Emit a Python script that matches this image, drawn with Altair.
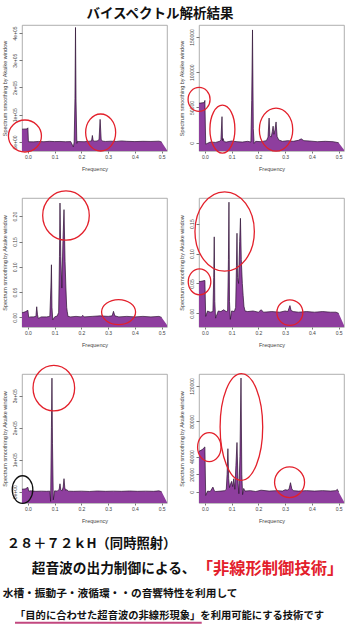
import altair as alt
import pandas as pd

# ---------------- data ----------------
FREQ_1 = [-0.022, -0.003, 0.0, 0.002, 0.02, 0.04, 0.06, 0.08, 0.10, 0.12, 0.14, 0.16, 0.170, 0.173, 0.176, 0.178, 0.180, 0.183, 0.186, 0.19, 0.21, 0.23, 0.238, 0.241, 0.244, 0.25, 0.26, 0.266, 0.270, 0.274, 0.28, 0.29, 0.31, 0.33, 0.35, 0.37, 0.40, 0.43, 0.46, 0.49, 0.50, 0.52]
SPEC_1 = [47000, 48000, 52000, 1000, 500, 2000, 1000, 2500, 1500, 2000, 1000, 1500, -18000, 0, 160000, 420000, 150000, -5000, 3000, 1500, 1000, 3000, 4000, 24000, 5000, 3000, 4000, 10000, 83000, 8000, 3000, 2000, 3000, 2000, 4000, 2500, 1500, 2500, 2000, 3000, 0, -30000]

FREQ_2 = [-0.022, -0.002, 0.0, 0.003, 0.02, 0.04, 0.055, 0.060, 0.064, 0.066, 0.068, 0.072, 0.08, 0.10, 0.12, 0.14, 0.16, 0.172, 0.175, 0.178, 0.181, 0.184, 0.19, 0.21, 0.23, 0.236, 0.240, 0.243, 0.248, 0.252, 0.255, 0.258, 0.262, 0.266, 0.270, 0.276, 0.29, 0.31, 0.33, 0.35, 0.36, 0.37, 0.39, 0.42, 0.45, 0.48, 0.50, 0.52]
SPEC_2 = [56000, 57000, 60000, -2000, 1000, 500, 2000, 4000, 37000, 3000, 6000, 1500, 1000, 2500, 1500, 1000, 2000, 1000, 60000, 160000, 20000, -1000, 2000, 1500, 3000, 8000, 35000, 10000, 8000, 16000, 23500, 12000, 18000, 29500, 9000, 4000, 2000, 3000, 2000, 3500, 5500, 3000, 2500, 1500, 2000, 1500, 0, -10000]

FREQ_3 = [-0.022, -0.01, 0.0, 0.003, 0.01, 0.02, 0.03, 0.033, 0.036, 0.039, 0.05, 0.07, 0.082, 0.086, 0.088, 0.090, 0.093, 0.10, 0.11, 0.115, 0.118, 0.120, 0.123, 0.127, 0.131, 0.135, 0.139, 0.142, 0.145, 0.147, 0.15, 0.16, 0.18, 0.20, 0.205, 0.21, 0.24, 0.27, 0.30, 0.315, 0.32, 0.325, 0.34, 0.37, 0.40, 0.43, 0.46, 0.49, 0.50, 0.52]
SPEC_3 = [0.009, 0.011, 0.014, 0.0, 0.001, 0.001, 0.002, 0.021, 0.005, -0.002, 0.001, 0.001, 0.002, 0.06, 0.104, 0.02, -0.005, 0.001, 0.003, 0.01, 0.12, 0.226, 0.12, 0.058, 0.15, 0.213, 0.11, 0.06, 0.02, 0.012, 0.002, 0.001, 0.002, 0.001, 0.004, 0.001, 0.002, 0.003, 0.002, 0.003, 0.012, 0.003, 0.001, 0.002, 0.001, 0.002, 0.001, 0.002, 0.0, -0.015]

FREQ_4 = [-0.022, -0.01, 0.0, 0.003, 0.01, 0.02, 0.03, 0.033, 0.035, 0.037, 0.04, 0.05, 0.06, 0.07, 0.08, 0.085, 0.088, 0.090, 0.092, 0.095, 0.10, 0.11, 0.115, 0.118, 0.120, 0.122, 0.126, 0.130, 0.133, 0.136, 0.140, 0.143, 0.146, 0.15, 0.16, 0.18, 0.20, 0.21, 0.22, 0.25, 0.28, 0.30, 0.31, 0.318, 0.322, 0.33, 0.35, 0.38, 0.41, 0.44, 0.47, 0.49, 0.50, 0.52]
SPEC_4 = [0.053, 0.054, 0.055, -0.005, 0.004, 0.002, 0.003, 0.06, 0.128, 0.02, -0.008, 0.004, 0.003, 0.006, 0.003, 0.004, 0.09, 0.186, 0.02, -0.01, 0.004, 0.003, 0.01, 0.08, 0.134, 0.06, 0.05, 0.12, 0.159, 0.09, 0.05, 0.03, 0.012, 0.004, 0.003, 0.004, 0.002, 0.006, 0.002, 0.003, 0.002, 0.004, 0.003, 0.013, 0.005, 0.003, 0.002, 0.003, 0.002, 0.003, 0.002, 0.002, 0.0, -0.02]

FREQ_5 = [-0.022, -0.01, 0.0, 0.003, 0.01, 0.03, 0.05, 0.07, 0.082, 0.085, 0.088, 0.090, 0.092, 0.095, 0.10, 0.11, 0.117, 0.120, 0.123, 0.128, 0.132, 0.135, 0.138, 0.142, 0.145, 0.15, 0.17, 0.20, 0.23, 0.26, 0.29, 0.32, 0.35, 0.38, 0.41, 0.44, 0.47, 0.49, 0.50, 0.52]
SPEC_5 = [8000, 9000, 14000, 2000, 3000, 1500, 2000, 1500, 2000, -30000, 200000, 355000, 150000, -25000, 3000, 2000, 8000, 25000, 6000, 3000, 15000, 41000, 12000, 4000, 7000, 2000, 1500, 2000, 1000, 2500, 1500, 2000, 1500, 2500, 1500, 2000, 1500, 3000, 0, -33000]

FREQ_6 = [-0.022, -0.01, 0.0, 0.003, 0.01, 0.02, 0.03, 0.035, 0.04, 0.06, 0.075, 0.08, 0.083, 0.086, 0.089, 0.092, 0.096, 0.100, 0.104, 0.108, 0.112, 0.116, 0.120, 0.124, 0.127, 0.131, 0.135, 0.138, 0.141, 0.145, 0.15, 0.17, 0.19, 0.21, 0.24, 0.27, 0.29, 0.30, 0.31, 0.315, 0.320, 0.325, 0.33, 0.35, 0.38, 0.41, 0.44, 0.47, 0.49, 0.495, 0.50, 0.52]
SPEC_6 = [46000, 48000, 51000, -4000, 1000, 500, 5500, 1500, 500, 1000, 1500, 3000, 20000, 49000, 15000, 5000, 9000, 12000, 6000, 15000, 3000, 30000, 56000, 10000, -2000, 40000, 129000, 20000, -3000, 4000, 1000, 1500, 500, 2000, 1000, 1500, 1000, 2500, 2000, 4000, 10500, 3500, 1500, 1000, 1500, 1000, 1500, 1000, 1500, 3000, 0, -11000]

X_TICKS = [0.0, 0.1, 0.2, 0.3, 0.4, 0.5]

Y_TICKS_1 = [0, 100000, 200000, 300000, 400000]
Y_LABELS_1 = ["0e+00", "1e+05", "2e+05", "3e+05", "4e+05"]
Y_TICKS_2 = [0, 50000, 100000, 150000]
Y_LABELS_2 = ["0", "50000", "100000", "150000"]
Y_TICKS_3 = [0, 0.05, 0.1, 0.15, 0.2]
Y_LABELS_3 = ["0.00", "0.05", "0.10", "0.15", "0.20"]
Y_TICKS_4 = [0, 0.05, 0.1, 0.15]
Y_LABELS_4 = ["0.00", "0.05", "0.10", "0.15"]
Y_TICKS_5 = [0, 100000, 200000, 300000]
Y_LABELS_5 = ["0e+00", "1e+05", "2e+05", "3e+05"]
Y_TICKS_6 = [0, 20000, 40000, 80000, 120000]
Y_LABELS_6 = ["0", "20000", "40000", "80000", "120000"]

Y_DOMAIN_1 = [-33000, 429000]
Y_DOMAIN_2 = [-11700, 167000]
Y_DOMAIN_3 = [-0.019, 0.236]
Y_DOMAIN_4 = [-0.0228, 0.193]
Y_DOMAIN_5 = [-35000, 368000]
Y_DOMAIN_6 = [-12500, 133600]

# annotation ellipses: centre frequency, centre value (data coords)
ELL_F_1 = [-0.011, 0.272]
ELL_V_1 = [22000, 34800]
ELL_F_2 = [-0.0217, 0.0655, 0.266]
ELL_V_2 = [61500, 19300, 18600]
ELL_F_3 = [0.1424, 0.339]
ELL_V_3 = [0.2014, 0.0105]
ELL_F_4 = [0.0739, -0.02, 0.3176]
ELL_V_4 = [0.137, 0.0528, 0.0013]
ELL_F_5 = [0.097, -0.02]
ELL_V_5 = [324000, 7000]
ELL_F_6 = [0.1365, 0.0165, 0.3165]
ELL_V_6 = [73600, 50700, 11000]

TITLE = "バイスペクトル解析結果"
X_TITLE = "Frequency"
Y_TITLE = "Spectrum smoothing by Akaike window"
LINE_1 = "２８＋７２ｋH（同時照射）"
LINE_2A = "超音波の出力制御による、"
LINE_2B = "「非線形制御技術」"
LINE_3 = "水槽・振動子・液循環・・の音響特性を利用して"
LINE_4 = "「目的に合わせた超音波の非線形現象」を利用可能にする技術です"

# ---------------- styling (not data) ----------------
PURPLE = "#8E3E9E"
RED = "#E3202B"
FONT = "Liberation Sans"
JP = "Noto Sans CJK JP"
W = 145
ROW_H = [126, 129, 129]

# ellipse radii in pixels (rx, ry) and colours, per panel
ELL_R = {
    1: [(16.5, 16, RED), (15, 18.5, RED)],
    2: [(11, 12, RED), (12.5, 24, RED), (16.7, 21.5, RED)],
    3: [(23.3, 24.7, RED), (17, 12.5, RED)],
    4: [(29.7, 39.7, RED), (11.3, 13, RED), (13, 12.8, RED)],
    5: [(20.8, 22.8, RED), (10.3, 13.8, "#111111")],
    6: [(21.3, 53.3, RED), (11.7, 14.5, RED), (15, 15.3, RED)],
}

PANELS = {
    1: (FREQ_1, SPEC_1, Y_DOMAIN_1, Y_TICKS_1, Y_LABELS_1, ELL_F_1, ELL_V_1),
    2: (FREQ_2, SPEC_2, Y_DOMAIN_2, Y_TICKS_2, Y_LABELS_2, ELL_F_2, ELL_V_2),
    3: (FREQ_3, SPEC_3, Y_DOMAIN_3, Y_TICKS_3, Y_LABELS_3, ELL_F_3, ELL_V_3),
    4: (FREQ_4, SPEC_4, Y_DOMAIN_4, Y_TICKS_4, Y_LABELS_4, ELL_F_4, ELL_V_4),
    5: (FREQ_5, SPEC_5, Y_DOMAIN_5, Y_TICKS_5, Y_LABELS_5, ELL_F_5, ELL_V_5),
    6: (FREQ_6, SPEC_6, Y_DOMAIN_6, Y_TICKS_6, Y_LABELS_6, ELL_F_6, ELL_V_6),
}


def ellipse_path(rx, ry):
    m = max(rx, ry)
    a, b = rx / m, ry / m
    return (f"M {-a:.4f} 0 A {a:.4f} {b:.4f} 0 1 0 {a:.4f} 0 "
            f"A {a:.4f} {b:.4f} 0 1 0 {-a:.4f} 0 Z"), (2 * m) ** 2


def text_layer(txt, x, y, size, color="#111111", weight="bold", align="left"):
    return alt.Chart(pd.DataFrame({"t": [txt]})).mark_text(
        font=JP, fontSize=size, fontWeight=weight, color=color,
        align=align, baseline="middle",
    ).encode(x=alt.value(x), y=alt.value(y), text="t:N")


def panel(k, h):
    f, v, dom, yt, yl, ef, ev = PANELS[k]
    df = pd.DataFrame({"f": f, "v": v})
    label_expr = "[" + ",".join(f"'{s}'" for s in yl) + "][indexof([" + \
        ",".join(str(t) for t in yt) + "], datum.value)]"
    x = alt.X("f:Q", scale=alt.Scale(domain=[-0.022, 0.52], nice=False, zero=False),
              axis=alt.Axis(values=X_TICKS, tickCount=20, format=".1f", title=X_TITLE,
                            grid=False, domain=False, tickSize=2, tickColor="#777",
                            labelPadding=1, labelFontSize=5, labelColor="#444",
                            labelFont=FONT, labelOverlap=False,
                            titleFont=FONT, titleFontSize=5.5, titleFontWeight="normal",
                            titleColor="#444", titlePadding=7, labelFlush=False))
    y = alt.Y("v:Q", scale=alt.Scale(domain=dom, nice=False, zero=False),
              axis=alt.Axis(values=yt, tickCount=20, labelExpr=label_expr, title=Y_TITLE,
                            grid=False, domain=False, tickSize=3, tickColor="#777",
                            labelPadding=2, labelAngle=270, labelAlign="center",
                            labelBaseline="bottom", labelFontSize=5, labelColor="#444",
                            labelOverlap=False, labelFont=FONT, titleFont=FONT,
                            titleFontSize=5.5, titleFontWeight="normal",
                            titleColor="#444", titlePadding=5, labelFlush=False))
    base = alt.Chart(df)
    area = base.mark_area(color=PURPLE, clip=True, opacity=1).encode(
        x=x, y=y, y2=alt.datum(dom[0]))
    line = base.transform_filter("datum.f <= 0.5").mark_line(
        color="#2b1030", strokeWidth=0.7, clip=True).encode(x="f:Q", y="v:Q")
    layers = [area, line]
    for (rx, ry, col), fe, ve in zip(ELL_R[k], ef, ev):
        path, size = ellipse_path(rx, ry)
        layers.append(
            alt.Chart(pd.DataFrame({"f": [fe], "v": [ve]})).mark_point(
                shape=path, size=size, filled=False, stroke=col, strokeWidth=1.3,
                opacity=1, clip=False).encode(x="f:Q", y="v:Q"))
    if k == 1:
        layers.append(text_layer(TITLE, 138, -11, 13.5, align="center"))
    if k == 5:
        layers += [
            text_layer(LINE_1, -15.3, 170.3, 13.3),
            text_layer(LINE_2A, 9.7, 195.3, 13.7),
            text_layer(LINE_2B, 174.7, 194.5, 16.3, color=RED),
            text_layer(LINE_3, -19.3, 219.7, 10.7),
            text_layer(LINE_4, -7, 242, 10.3),
            alt.Chart(pd.DataFrame({"t": [LINE_4]})).mark_rule(
                color="#C2477F", strokeWidth=2).encode(
                x=alt.value(-7), x2=alt.value(179.7), y=alt.value(248.7)),
        ]
    return alt.layer(*layers).properties(width=W, height=h)


panels = [panel(k, ROW_H[(k - 1) // 2]) for k in range(1, 7)]

chart = alt.concat(*panels, columns=2, spacing={"row": 47, "column": 32},
                   bounds="flush").properties(
    padding={"left": 1, "top": 6, "right": 0, "bottom": 0},
    background="white",
).configure_view(stroke="#9a9a9a", strokeWidth=0.8)

chart.save("out.html", embed_options={"renderer": "svg", "actions": False})
